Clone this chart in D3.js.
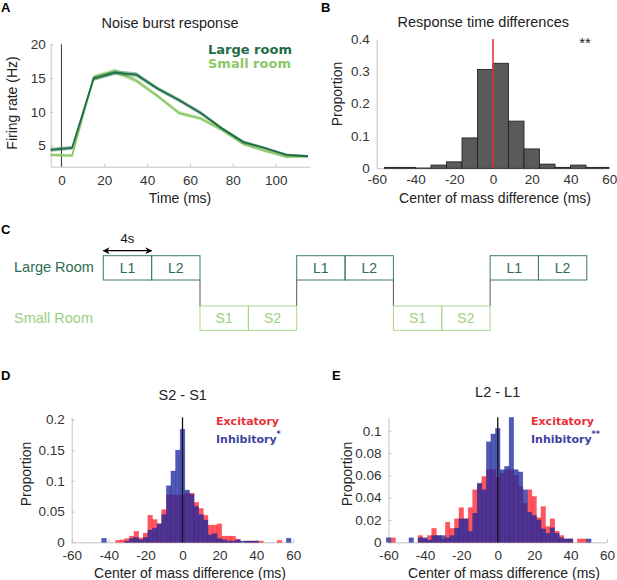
<!DOCTYPE html>
<html>
<head>
<meta charset="utf-8">
<script src="https://cdnjs.cloudflare.com/ajax/libs/d3/7.8.5/d3.min.js"></script>
<style>
body { margin: 0; background: #fff; }
svg { font-family: "Liberation Sans", Arial, sans-serif; }
.axis path, .axis line { stroke: #c4c4c4; }
.axis text { fill: #333; font-size: 13.5px; }
.lbl { fill: #222; font-size: 14px; }
.title { fill: #222; font-size: 14.5px; }
.letter { font-weight: bold; font-size: 13px; fill: #000; }
.leg { font-family: "DejaVu Sans", Verdana, sans-serif; font-weight: bold; }
</style>
</head>
<body>
<svg id="fig" width="617" height="580"></svg>
<script>

// ---- panel A : noise burst response ----
var timeMs    = [-5, 5, 15, 25, 35, 45, 55, 65, 75, 85, 95, 105, 115];
var largeRate = [4.35, 4.65, 14.9, 15.8, 15.5, 13.4, 11.7, 9.8, 7.5, 5.5, 4.6, 3.6, 3.4];
var largeSem  = [0.3, 0.3, 0.35, 0.35, 0.35, 0.3, 0.3, 0.3, 0.25, 0.25, 0.2, 0.2, 0.2];
var smallRate = [3.6, 3.5, 15.1, 16.0, 14.6, 12.3, 9.8, 9.0, 7.3, 5.2, 4.2, 3.3, 3.4];
var smallSem  = [0.25, 0.25, 0.4, 0.4, 0.35, 0.3, 0.3, 0.3, 0.25, 0.25, 0.2, 0.2, 0.2];

// ---- panel B : response time differences (8 ms bins, left edges) ----
var bBinStart = [-56, -48, -40, -32, -24, -16, -8, 0, 8, 16, 24, 32, 40, 48, 56];
var bProp     = [0.003, 0.003, 0.001, 0.01, 0.02, 0.094, 0.306, 0.325, 0.146, 0.06, 0.013, 0.003, 0.01, 0.003, 0.003];

// ---- panel C : room sequence ----
var blockLabels = ["L1", "L2", "S1", "S2", "L1", "L2", "S1", "S2", "L1", "L2"];
var blockRoom   = ["L", "L", "S", "S", "L", "L", "S", "S", "L", "L"];

// ---- panels D, E : center of mass differences (2.5 ms bins, centers) ----
var binCenters = [-60, -57.5, -55, -52.5, -50, -47.5, -45, -42.5, -40, -37.5, -35, -32.5, -30, -27.5, -25, -22.5,
    -20, -17.5, -15, -12.5, -10, -7.5, -5, -2.5, 0, 2.5, 5, 7.5, 10, 12.5, 15, 17.5, 20, 22.5, 25, 27.5,
    30, 32.5, 35, 37.5, 40, 42.5, 45, 47.5, 50, 52.5, 55, 57.5, 60];

var dExc = [0, 0, 0, 0, 0, 0, 0, 0, 0, 0, 0.003, 0.004, 0.006, 0.01, 0.018, 0.007,
    0.015, 0.044, 0.037, 0.03, 0.053, 0.077, 0.077, 0.077, 0.077, 0.08, 0.08, 0.065, 0.055, 0.044, 0.028, 0.028,
    0.03, 0.01, 0.01, 0.01, 0.005, 0, 0.002, 0.002, 0.002, 0.002, 0, 0, 0, 0.003, 0, 0, 0];
var dInh = [0, 0, 0, 0, 0, 0, 0, 0.0065, 0, 0, 0, 0, 0.002, 0.006, 0.008, 0.004,
    0.008, 0.02, 0.023, 0.03, 0.045, 0.092, 0.116, 0.15, 0.184, 0.085, 0.078, 0.058, 0.045, 0.036, 0.012, 0.014,
    0.006, 0.004, 0.002, 0.002, 0.004, 0.002, 0.002, 0.002, 0.002, 0, 0, 0, 0, 0, 0, 0.0065, 0];

var eExc = [0, 0.004, 0, 0, 0, 0, 0, 0.006, 0.003, 0.006, 0.0125, 0.006, 0.003, 0.018, 0.0125, 0.021,
    0.031, 0.021, 0.031, 0.047, 0.052, 0.059, 0.065, 0.065, 0.058, 0.062, 0.065, 0.065, 0.06, 0.05, 0.035, 0.047,
    0.041, 0.022, 0.032, 0.014, 0.021, 0.01, 0.006, 0.003, 0.003, 0, 0.003, 0.003, 0, 0, 0, 0, 0];
var eInh = [0.004, 0, 0, 0, 0, 0.004, 0, 0.004, 0.004, 0.002, 0.006, 0.006, 0.006, 0.004, 0.006, 0.0125,
    0.021, 0.021, 0.01, 0.026, 0.053, 0.047, 0.09, 0.097, 0.102, 0.065, 0.068, 0.125, 0.065, 0.063, 0.047, 0.027,
    0.024, 0.02, 0.012, 0.008, 0.013, 0.008, 0.004, 0.003, 0.003, 0, 0, 0, 0.003, 0, 0, 0, 0];

var darkGreen = "#1e6e45",
    lightGreen = "#8cc866",
    excColor = "#ff2a36",
    inhColor = "#1f2a9e";

var plain = function(d) { return String(d); };

var svg = d3.select("#fig");
var defs = svg.append("defs");

function letter(txt, x, y) {
    svg.append("text").attr("class", "letter").attr("x", x).attr("y", y).text(txt);
}

function yLabel(txt, x, y) {
    svg.append("text").attr("class", "lbl")
        .attr("text-anchor", "middle")
        .attr("transform", "translate(" + x + "," + y + ") rotate(-90)")
        .text(txt);
}

function centerText(cls, txt, x, y) {
    svg.append("text").attr("class", cls).attr("text-anchor", "middle")
        .attr("x", x).attr("y", y).text(txt);
}

// ===== A =====
(function() {
    var x = d3.scaleLinear().domain([-5, 116]).range([50.7, 310]),
        y = d3.scaleLinear().domain([1.85, 20]).range([166.7, 44.3]);

    var g = svg.append("g");

    g.append("g").attr("class", "axis")
        .attr("transform", "translate(0," + y.range()[0] + ")")
        .call(d3.axisBottom(x).tickValues([0, 20, 40, 60, 80, 100]).tickFormat(plain)
            .tickSize(-3).tickSizeOuter(0).tickPadding(9));
    g.append("g").attr("class", "axis")
        .attr("transform", "translate(" + x.range()[0] + ",0)")
        .call(d3.axisLeft(y).tickValues([5, 10, 15, 20]).tickFormat(plain)
            .tickSize(-3).tickSizeOuter(0).tickPadding(5));

    g.append("line")
        .attr("x1", x(0)).attr("x2", x(0))
        .attr("y1", y(20)).attr("y2", y.range()[0])
        .attr("stroke", "#333").attr("stroke-width", 1);

    var series = [
        {rate: smallRate, sem: smallSem, color: lightGreen},
        {rate: largeRate, sem: largeSem, color: darkGreen}
    ];

    series.forEach(function(s) {
        var pts = timeMs.map(function(t, i) { return {t: t, m: s.rate[i], e: s.sem[i]}; });
        var area = d3.area()
            .x(function(d) { return x(d.t); })
            .y0(function(d) { return y(d.m - d.e); })
            .y1(function(d) { return y(d.m + d.e); });
        var line = d3.line()
            .x(function(d) { return x(d.t); })
            .y(function(d) { return y(d.m); });
        g.append("path").datum(pts).attr("d", area)
            .attr("fill", s.color).attr("fill-opacity", 0.45);
        g.append("path").datum(pts).attr("d", line)
            .attr("fill", "none").attr("stroke", s.color).attr("stroke-width", 1.8);
    });

    g.append("text").attr("class", "leg").attr("x", 208).attr("y", 54)
        .style("font-size", "13px").attr("fill", darkGreen).text("Large room");
    g.append("text").attr("class", "leg").attr("x", 208).attr("y", 67.5)
        .style("font-size", "13px").attr("fill", lightGreen).text("Small room");

    centerText("title", "Noise burst response", 170, 28);
    centerText("lbl", "Time (ms)", 180, 203);
    yLabel("Firing rate (Hz)", 16.5, 103);
    letter("A", 1, 12);
})();

// ===== B =====
(function() {
    var x = d3.scaleLinear().domain([-60, 60]).range([376.7, 609.3]),
        y = d3.scaleLinear().domain([0, 0.4]).range([168.3, 39]);

    var g = svg.append("g");

    defs.append("clipPath").attr("id", "clipB").append("rect")
        .attr("x", x(-60)).attr("y", y(0.4)).attr("width", x(60) - x(-60)).attr("height", y(0) - y(0.4) + 1);

    g.append("g").attr("class", "axis")
        .attr("transform", "translate(0," + y(0) + ")")
        .call(d3.axisBottom(x).tickValues([-60, -40, -20, 0, 20, 40, 60]).tickFormat(plain)
            .tickSize(0).tickPadding(6.5));
    g.append("g").attr("class", "axis")
        .attr("transform", "translate(" + x(-60) + ",0)")
        .call(d3.axisLeft(y).tickValues([0, 0.1, 0.2, 0.3, 0.4]).tickFormat(plain)
            .tickSize(0).tickPadding(7));

    g.append("g").attr("clip-path", "url(#clipB)")
        .selectAll("rect").data(bBinStart).enter().append("rect")
        .attr("x", function(d) { return x(d); })
        .attr("width", function(d) { return x(d + 8) - x(d); })
        .attr("y", function(d, i) { return y(bProp[i]); })
        .attr("height", function(d, i) { return y(0) - y(bProp[i]); })
        .attr("fill", "#5a5a5a").attr("stroke", "#1a1a1a").attr("stroke-width", 0.8);

    g.append("line")
        .attr("x1", x(0)).attr("x2", x(0))
        .attr("y1", y(0.4)).attr("y2", y(0))
        .attr("stroke", "#e8372f").attr("stroke-width", 1.6);

    g.append("text").attr("x", 585).attr("y", 48).attr("text-anchor", "middle")
        .style("font-size", "15px").attr("fill", "#222").text("**");

    centerText("title", "Response time differences", 483.3, 27);
    centerText("lbl", "Center of mass difference (ms)", 495, 203);
    yLabel("Proportion", 341.5, 94);
    letter("B", 321, 12);
})();

// ===== C =====
(function() {
    var t = d3.scaleLinear().domain([0, 40]).range([103.3, 586.8]);
    var rowTop = {L: 255.7, S: 306},
        rowH = 24.3,
        stroke = {L: "#3c7d62", S: "#a9d88e"},
        fill = {L: "#2d6e50", S: "#9bcf7f"};

    var g = svg.append("g");

    var blocks = blockLabels.map(function(lab, i) {
        return {label: lab, room: blockRoom[i], t0: i * 4};
    });

    // connectors between rooms
    blocks.forEach(function(b, i) {
        if (i > 0 && blocks[i - 1].room !== b.room) {
            g.append("line")
                .attr("x1", t(b.t0)).attr("x2", t(b.t0))
                .attr("y1", rowTop.L + rowH).attr("y2", rowTop.S)
                .attr("stroke", "#555").attr("stroke-width", 1);
        }
    });

    var cell = g.selectAll("g.block").data(blocks).enter().append("g").attr("class", "block");
    cell.append("rect")
        .attr("x", function(d) { return t(d.t0); })
        .attr("y", function(d) { return rowTop[d.room]; })
        .attr("width", function(d) { return t(d.t0 + 4) - t(d.t0); })
        .attr("height", rowH)
        .attr("fill", "none")
        .attr("stroke", function(d) { return stroke[d.room]; })
        .attr("stroke-width", 1);
    cell.append("text")
        .attr("x", function(d) { return (t(d.t0) + t(d.t0 + 4)) / 2; })
        .attr("y", function(d) { return rowTop[d.room] + 17; })
        .attr("text-anchor", "middle")
        .style("font-size", "14px")
        .attr("fill", function(d) { return fill[d.room]; })
        .text(function(d) { return d.label; });

    g.append("text").attr("x", 14).attr("y", 271.7).style("font-size", "14.5px")
        .attr("fill", fill.L).text("Large Room");
    g.append("text").attr("x", 14).attr("y", 322.7).style("font-size", "14.5px")
        .attr("fill", fill.S).text("Small Room");

    // 4 s arrow
    defs.append("marker").attr("id", "arrowHead")
        .attr("viewBox", "0 0 10 10").attr("refX", 9).attr("refY", 5)
        .attr("markerWidth", 10).attr("markerHeight", 7).attr("markerUnits", "userSpaceOnUse")
        .attr("orient", "auto-start-reverse")
        .append("path").attr("d", "M0,0 L10,5 L0,10 L3,5 Z").attr("fill", "#000");
    g.append("line")
        .attr("x1", t(0)).attr("x2", t(4))
        .attr("y1", 250.7).attr("y2", 250.7)
        .attr("stroke", "#000").attr("stroke-width", 1.3)
        .attr("marker-start", "url(#arrowHead)").attr("marker-end", "url(#arrowHead)");
    g.append("text").attr("x", (t(0) + t(4)) / 2).attr("y", 242.7).attr("text-anchor", "middle")
        .style("font-size", "13px").attr("fill", "#111").text("4s");

    letter("C", 1, 234);
})();

// ===== D, E =====
function histPanel(o) {
    var x = d3.scaleLinear().domain([-60, 60]).range(o.xr),
        y = d3.scaleLinear().domain([0, o.ymax]).range([542.3, 417.3]);

    var g = svg.append("g");

    defs.append("clipPath").attr("id", o.id).append("rect")
        .attr("x", x(-62)).attr("y", y(o.ymax)).attr("width", x(62) - x(-62)).attr("height", y(0) - y(o.ymax) + 1);

    g.append("g").attr("class", "axis")
        .attr("transform", "translate(0," + y(0) + ")")
        .call(d3.axisBottom(x).tickValues([-60, -40, -20, 0, 20, 40, 60]).tickFormat(plain)
            .tickSize(-3).tickSizeOuter(0).tickPadding(8));
    g.append("g").attr("class", "axis")
        .attr("transform", "translate(" + x(-60) + ",0)")
        .call(d3.axisLeft(y).tickValues(o.yticks).tickFormat(plain)
            .tickSize(-3).tickSizeOuter(0).tickPadding(7));

    var bars = g.append("g").attr("clip-path", "url(#" + o.id + ")");
    [{v: o.exc, c: excColor, a: 0.8}, {v: o.inh, c: inhColor, a: 0.78}].forEach(function(s) {
        bars.append("g").selectAll("rect").data(binCenters).enter()
            .filter(function(d, i) { return s.v[i] > 0; })
            .append("rect")
            .attr("x", function(d) { return x(d - 1.25); })
            .attr("width", function(d) { return x(d + 1.25) - x(d - 1.25); })
            .attr("y", function(d) { return y(s.v[binCenters.indexOf(d)]); })
            .attr("height", function(d) { return y(0) - y(s.v[binCenters.indexOf(d)]); })
            .attr("fill", s.c).attr("fill-opacity", s.a)
            .attr("stroke", s.c).attr("stroke-opacity", 0.5).attr("stroke-width", 0.6);
    });

    g.append("line")
        .attr("x1", x(0)).attr("x2", x(0))
        .attr("y1", y(o.ymax)).attr("y2", y(0))
        .attr("stroke", "#111").attr("stroke-width", 1.3);

    g.append("text").attr("class", "leg").attr("x", o.legX).attr("y", 425)
        .style("font-size", "11px").attr("fill", "#e8303a").text("Excitatory");
    var inh = g.append("text").attr("class", "leg").attr("x", o.legX).attr("y", 443.3)
        .style("font-size", "11px").attr("fill", "#3d3f9e");
    inh.append("tspan").text("Inhibitory");
    inh.append("tspan").attr("dy", -6).style("font-size", "8px").text(o.star);

    centerText("title", o.title, o.titleX, o.titleY);
    centerText("lbl", "Center of mass difference (ms)", o.xlabX, 578);
    yLabel("Proportion", o.ylabX, 474);
}

histPanel({
    id: "clipD", xr: [71.7, 293.3], ymax: 0.2035, yticks: [0, 0.05, 0.1, 0.15, 0.2],
    exc: dExc, inh: dInh, legX: 216, star: "*",
    title: "S2 - S1", titleX: 182.7, titleY: 400, xlabX: 190, ylabX: 31
});
histPanel({
    id: "clipE", xr: [388.5, 607], ymax: 0.112, yticks: [0, 0.02, 0.04, 0.06, 0.08, 0.1],
    exc: eExc, inh: eInh, legX: 531, star: "**",
    title: "L2 - L1", titleX: 497.7, titleY: 396.7, xlabX: 504, ylabX: 351.5
});

letter("D", 1, 380);
letter("E", 332, 380);

</script>
</body>
</html>
